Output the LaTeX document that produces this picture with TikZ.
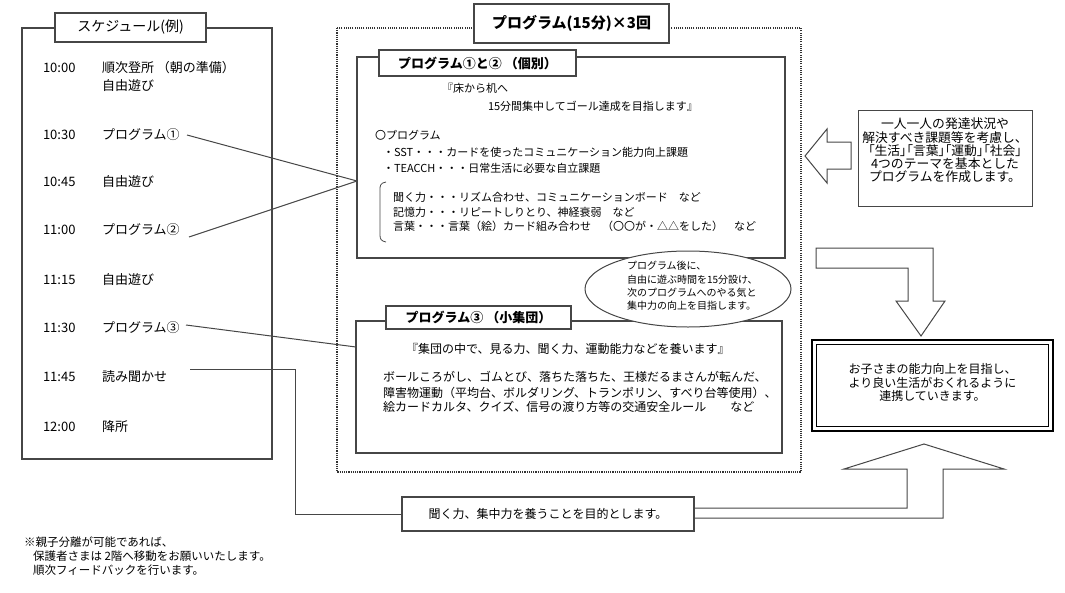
\documentclass[tikz,border=0pt]{standalone}
\usepackage{fontspec}
\setmainfont{Noto Sans CJK JP}
\newfontfamily\pfont[RawFeature=+palt]{Noto Sans CJK JP}
\usetikzlibrary{shapes.geometric}
\definecolor{lc}{RGB}{70,70,70}
\begin{document}
\begin{tikzpicture}[x=1pt,y=-1pt,
  every node/.style={inner sep=0pt,outer sep=0pt},
  frame/.style={draw=lc,line width=1.3pt},
  ttl/.style={draw=lc,line width=1.3pt,fill=white},
  conn/.style={draw=lc,line width=1pt},
  arr/.style={draw=lc,line width=1pt,fill=white,line join=miter},
  sch/.style={anchor=west,font=\fontsize{13}{15}\selectfont},
  bt/.style={anchor=west,font=\fontsize{11}{14}\selectfont},
  bt3/.style={anchor=west,font=\fontsize{12}{14}\selectfont},
  cbox/.style={align=center,font=\fontsize{12}{13.4}\selectfont}]
\useasboundingbox (0,0) rectangle (1065,592);

% ---------- schedule ----------
\draw[frame] (22,28) rectangle (272,459);
\node[ttl,minimum width=151pt,minimum height=29pt,font=\fontsize{14}{16}\selectfont] (schT) at (130.5,27.5) {スケジュール(例)};
\node[sch] (t1) at (43,68) {10:00};
\node[sch] (a1) at (102,68) {順次登所 （朝の準備）};
\node[sch] (a1b) at (102,86) {自由遊び};
\node[sch] (t2) at (43,135) {10:30};
\node[sch] (a2) at (102,135) {プログラム①};
\node[sch] (t3) at (43,182) {10:45};
\node[sch] (a3) at (102,182) {自由遊び};
\node[sch] (t4) at (43,230) {11:00};
\node[sch] (a4) at (102,230) {プログラム②};
\node[sch] (t5) at (43,280) {11:15};
\node[sch] (a5) at (102,280) {自由遊び};
\node[sch] (t6) at (43,328) {11:30};
\node[sch] (a6) at (102,328) {プログラム③};
\node[sch] (t7) at (43,377) {11:45};
\node[sch] (a7) at (102,377) {読み聞かせ};
\node[sch] (t8) at (43,427) {12:00};
\node[sch] (a8) at (102,427) {降所};

% ---------- outer dotted frame ----------
\draw[draw=black!80,line width=1.1pt,dash pattern=on 1.1pt off 1.1pt] (337,28) rectangle (801,472);
\node[ttl,minimum width=195pt,minimum height=39pt,font=\bfseries\fontsize{15}{17}\selectfont] (outT) at (571.5,23.5) {プログラム(15分)×3回};

% ---------- box 1 ----------
\node[frame,minimum width=428pt,minimum height=201pt] (box1) at (571,157.5) {};
\node[ttl,minimum width=197pt,minimum height=26pt,font=\bfseries\fontsize{13}{15}\selectfont] (b1T) at (477.5,63) {プログラム①と② （個別）};
\node[bt] (l1) at (442,88) {『床から机へ};
\node[bt] (l2) at (488,106) {15分間集中してゴール達成を目指します』};
\node[bt] (l3) at (375,135) {〇プログラム};
\node[bt] (l4) at (383,152) {・SST・・・カードを使ったコミュニケーション能力向上課題};
\node[bt] (l5) at (383,168) {・TEACCH・・・日常生活に必要な自立課題};
\draw[conn,line width=0.8pt] (386,182) .. controls (380,183) and (380,186) .. (380,190) -- (380,235) .. controls (380,239) and (381,241) .. (386,242);
\node[bt] (l6) at (393,197) {聞く力・・・リズム合わせ、コミュニケーションボード　など};
\node[bt] (l7) at (393,212) {記憶力・・・リピートしりとり、神経衰弱　など};
\node[bt] (l8) at (393,226) {言葉・・・言葉（絵）カード組み合わせ　（〇〇が・△△をした）　など};

% ---------- box 3 ----------
\node[frame,minimum width=426pt,minimum height=132pt] (box3) at (569,387) {};
\node[ttl,minimum width=185pt,minimum height=23pt,font=\bfseries\fontsize{13}{15}\selectfont] (b3T) at (478.5,317.5) {プログラム③ （小集団）};
\node[bt3] (m1) at (406,349) {『集団の中で、見る力、聞く力、運動能力などを養います』};
\node[bt3] (m2) at (383,377) {ボールころがし、ゴムとび、落ちた落ちた、王様だるまさんが転んだ、};
\node[bt3] (m3) at (383,393) {障害物運動（平均台、ボルダリング、トランポリン、すべり台等使用）、};
\node[bt3] (m4) at (383,407) {絵カードカルタ、クイズ、信号の渡り方等の交通安全ルール　　など};

% ---------- ellipse ----------
\node[draw=lc,line width=1pt,fill=white,ellipse,minimum width=206pt,minimum height=76pt] (ell) at (688,289) {};
\node[anchor=west,align=left,font=\fontsize{10}{13.3}\selectfont] (ellT) at (627,286) {プログラム後に、\\自由に遊ぶ時間を15分設け、\\次のプログラムへのやる気と\\集中力の向上を目指します。};

% ---------- connectors ----------
\coordinate (s1) at (187,135);
\coordinate (s2) at (189,237);
\coordinate (s3) at (186,325);
\coordinate (s4) at (190,369);
\coordinate (j1) at (357,181);
\coordinate (j3) at (356,347);
\coordinate (k1) at (295,369);
\coordinate (k2) at (295,514);
\draw[conn] (s1) -- (j1);
\draw[conn] (s2) -- (j1);
\draw[conn] (s3) -- (j3);

% ---------- right box + left arrow ----------
\node[draw=lc,line width=1pt,minimum width=174pt,minimum height=96pt] (rbox) at (945,158) {};
\node[align=center,font=\fontsize{12.8}{13.2}\selectfont] (rT) at (945,150.5) {一人一人の発達状況や\\解決すべき課題等を考慮し、\\{\pfont「生活」「言葉」「運動」「社会」}\\4つのテーマを基本とした\\プログラムを作成します。};
\draw[arr] (851,142) -- (827,142) -- (827,129) -- (805,156) -- (827,183) -- (827,169) -- (851,169) -- cycle;

% ---------- bent arrow down ----------
\draw[arr] (816,248) -- (933,248) -- (933,301) -- (945,301) -- (921,336) -- (896,301) -- (908,301) -- (908,268) -- (816,268) -- cycle;

% ---------- double box ----------
\node[draw=black,line width=2pt,minimum width=241pt,minimum height=91pt] (gbox) at (932.5,385.5) {};
\draw[black,line width=0.9pt] (816.5,344.5) rectangle (1048.5,426.5);
\node[cbox] (gT) at (932.5,382.5) {お子さまの能力向上を目指し、\\より良い生活がおくれるように\\連携していきます。};

% ---------- bottom box + up arrow ----------
\draw[arr] (690,508) -- (907,508) -- (907,469) -- (844,469) -- (924,444) -- (1004,469) -- (943,469) -- (943,518) -- (690,518);
\node[draw=lc,line width=1.2pt,fill=white,minimum width=292pt,minimum height=34pt,font=\fontsize{12}{14}\selectfont] (bbox) at (548,514) {聞く力、集中力を養うことを目的とします。};
\draw[conn] (s4) -- (k1) -- (k2) -- (bbox.west);

% ---------- footnote ----------
\node[anchor=west,align=left,font=\fontsize{11.5}{14}\selectfont] (fn) at (24,556) {※親子分離が可能であれば、\\\hspace*{9pt}保護者さまは 2階へ移動をお願いいたします。\\\hspace*{9pt}順次フィードバックを行います。};
\end{tikzpicture}
\end{document}
